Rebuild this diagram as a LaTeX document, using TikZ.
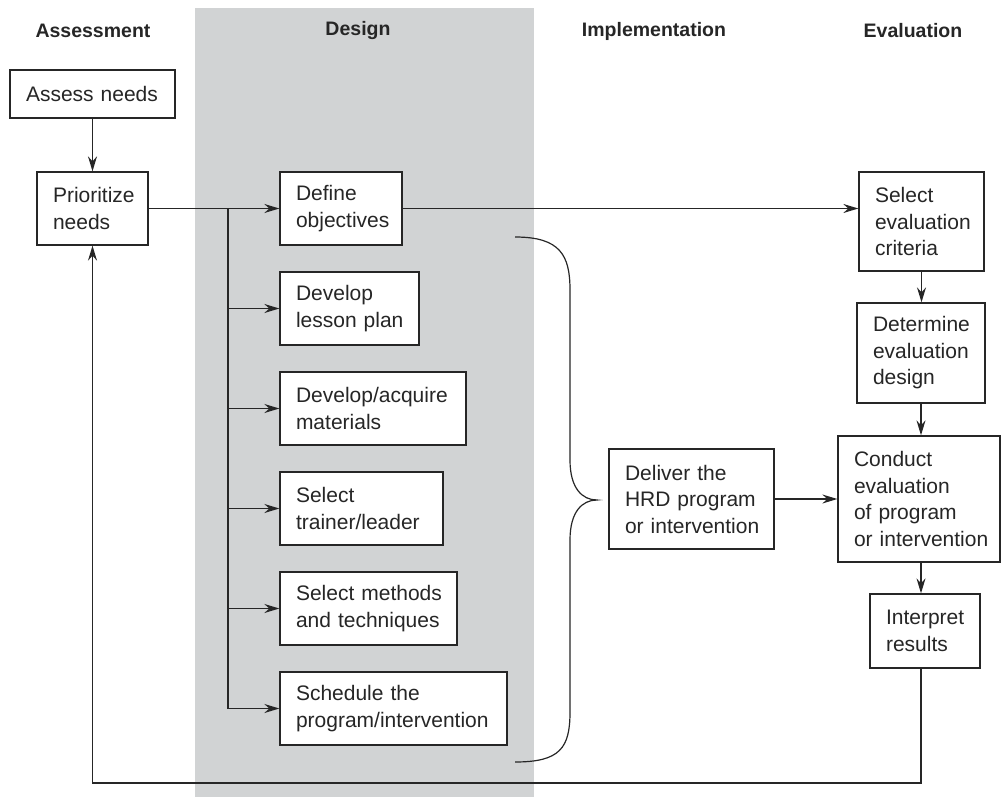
\documentclass[tikz,border=0pt]{standalone}
\usepackage{fontspec}
\setmainfont{Liberation Sans}
\usetikzlibrary{arrows.meta,calc}
\definecolor{band}{HTML}{D1D3D4}
\definecolor{ink}{HTML}{262626}
\tikzset{
  box/.style={draw=ink, line width=1.3pt, fill=white, text=ink, align=left,
    inner xsep=16pt, inner ysep=0pt,
    font=\fontsize{21}{26.5}\selectfont,
    execute at begin node={\hyphenpenalty=10000 \exhyphenpenalty=10000 }},
  hdr/.style={text=ink, font=\fontsize{19.5}{22}\selectfont\bfseries},
  conn/.style={draw=ink, line width=1.4pt},
  arr/.style={conn, -{Stealth[length=15pt,width=9pt,inset=5pt]}},
}
\begin{document}
\begin{tikzpicture}[x=1pt,y=-1pt]
\useasboundingbox (0,0) rectangle (1001,797);
\fill[band] (195,8) rectangle (534,797);
% headers
\node[hdr] (hA) at (93,31) {Assessment};
\node[hdr] (hD) at (358,31) {Design};
\node[hdr] (hI) at (654,31) {Implementation};
\node[hdr] (hE) at (913,31) {Evaluation};
% boxes
\node[box, text width=133pt, minimum height=48pt] (assess) at (92.5,94) {Assess~needs};
\node[box, text width=79pt, minimum height=73pt] (prior) at (92.5,208.5) {Prioritize\\needs};
\node[box, text width=90pt, minimum height=73pt] (def) at (341,208.5) {Define\\objectives};
\node[box, text width=107pt, minimum height=73pt] (lesson) at (349.5,308.5) {Develop\\lesson~plan};
\node[box, text width=154pt, minimum height=73pt] (mat) at (373,408.5) {Develop/acquire\\materials};
\node[box, text width=131pt, minimum height=73pt] (trainer) at (361.5,508.5) {Select\\trainer/leader};
\node[box, text width=145pt, minimum height=73pt] (methods) at (368.5,608.5) {Select~methods\\and~techniques};
\node[box, text width=195pt, minimum height=73pt] (sched) at (393.5,708.5) {Schedule~the\\program/intervention};
\node[box, text width=133pt, minimum height=100pt] (deliver) at (691.5,499) {Deliver~the\\HRD~program\\or~intervention};
\node[box, text width=93pt, minimum height=99pt] (crit) at (921.5,221.5) {Select\\evaluation\\criteria};
\node[box, text width=96pt, minimum height=100pt] (det) at (921,353) {Determine\\evaluation\\design};
\node[box, text width=130pt, minimum height=126pt] (conduct) at (919,499) {Conduct\\evaluation\\of~program\\or~intervention};
\node[box, text width=78pt, minimum height=74pt] (interp) at (925,631) {Interpret\\results};
% connectors
\draw[arr] (assess) -- (prior);
\draw[arr] (prior.east) -- (def.west);
\coordinate (trunk) at (228,208.5);
\draw[conn] (trunk) -- (trunk |- sched.west);
\foreach \b in {lesson,mat,trainer,methods,sched}
  \draw[arr] (trunk |- \b.west) -- (\b.west);
\draw[arr] (def.east) -- (def.east -| crit.west);
\draw[arr] (crit.south) -- (crit.south |- det.north);
\draw[arr] (det.south) -- (det.south |- conduct.north);
\draw[arr] (conduct.south -| det.south) -- (interp.north -| det.south);
\draw[arr] (deliver.east) -- (conduct.west);
\coordinate (loop) at (0,783);
\draw[arr] (interp.south -| det.south) -- (loop -| det.south) -- (loop -| prior.south) -- (prior.south);
% brace
\coordinate (btop) at (515,237);
\coordinate (btip) at (597,500);
\coordinate (bbot) at (515,762);
\draw[conn, line width=1.2pt] (btop) .. controls (560,237) and (570,255) .. (570,290)
  -- (570,460) .. controls (570,488) and (582,500) .. (btip)
  .. controls (582,500) and (570,512) .. (570,540)
  -- (570,712) .. controls (570,748) and (560,762) .. (bbot);
\end{tikzpicture}
\end{document}
